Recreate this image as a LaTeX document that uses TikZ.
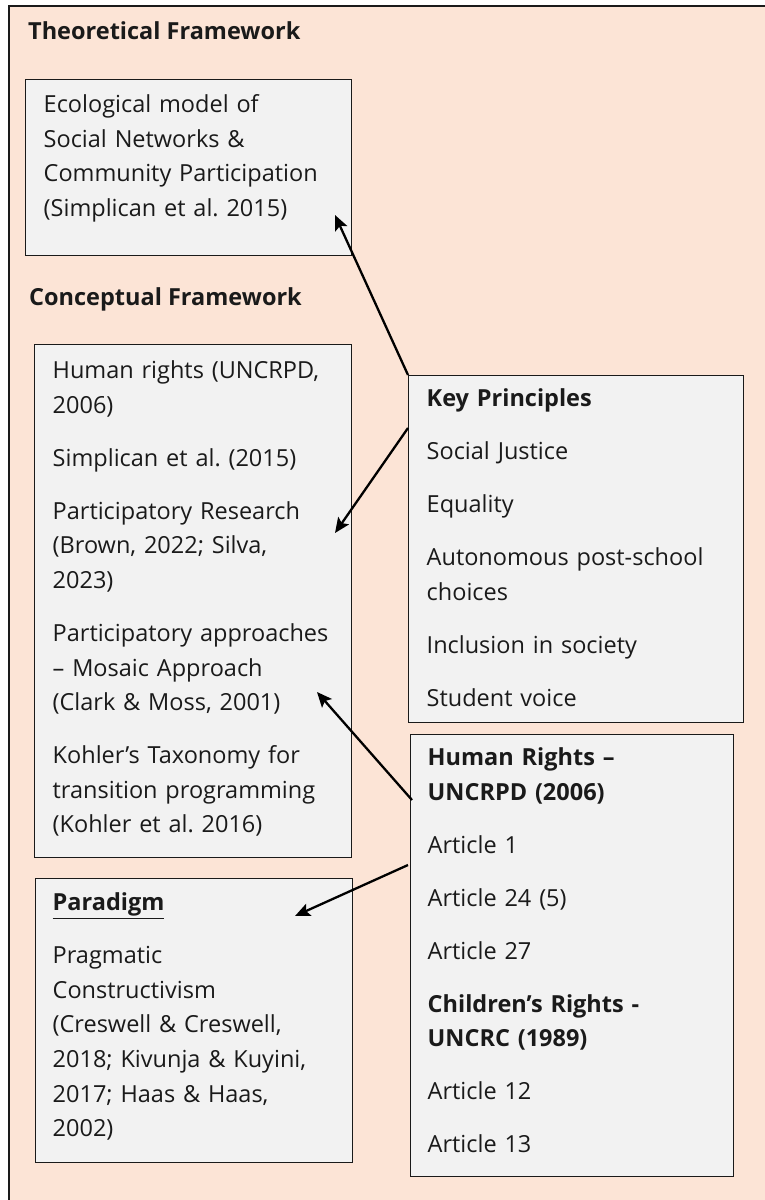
\documentclass[tikz,border=0pt]{standalone}
\usepackage{fontspec}
\setmainfont{Open Sans}
\frenchspacing
\usetikzlibrary{arrows.meta, positioning}

\definecolor{peach}{HTML}{FCE4D6}
\definecolor{boxGrey}{HTML}{F2F2F2}
\definecolor{inkDark}{HTML}{1A1A1A}

\begin{document}
\begin{tikzpicture}[
        x=1pt, y=-1pt,
        every node/.style={text=inkDark},
        frameBlock/.style={
            rectangle, draw=inkDark, line width=1.4pt, fill=boxGrey,
            anchor=north west, align=left, inner ysep=0pt,
            font=\fontsize{23.5}{34.6}\selectfont
        },
        headText/.style={
            anchor=base west, inner sep=0pt,
            font=\fontsize{23.5}{34.6}\selectfont\bfseries
        },
        arrow/.style={
            line width=2.3pt, -{Stealth[length=15pt, width=13pt, inset=3pt]}
        }
    ]
        \useasboundingbox (0,0) rectangle (765,1200);
        \fill[white] (0,0) rectangle (765,1200);
        \fill[peach] (9,6) rectangle (765,1200);
        \draw[inkDark, line width=1.3pt] (9,1200) -- (9,6) -- (765,6);

        % Headings
        \node (theoryHead) [headText] at (28,39) {Theoretical Framework};
        \node (conceptHead) [headText] at (29,305) {Conceptual Framework};

        % Nodes
        \node (theory) [frameBlock, inner xsep=18pt, text width=290pt,
            text height=33pt, text depth=143pt] at (25,79)
            {Ecological model of\\ Social Networks \&\\ Community Participation\\ (Simplican et al. 2015)};
        \node (concept) [frameBlock, inner xsep=18pt, text width=281pt,
            text height=34pt, text depth=479pt] at (34,344)
            {Human rights (UNCRPD,\\ 2006)\\[18.4pt]
             Simplican et al. (2015)\\[18.4pt]
             Participatory Research\\ (Brown, 2022; Silva,\\ 2023)\\[18.4pt]
             Participatory approaches\\ – Mosaic Approach\\ (Clark \& Moss, 2001)\\[18.4pt]
             Kohler’s Taxonomy for\\ transition programming\\ (Kohler et al. 2016)};
        \node (principles) [frameBlock, inner xsep=18pt, text width=299pt,
            text height=31pt, text depth=316pt] at (408,375)
            {\textbf{Key Principles}\\[18.4pt]
             Social Justice\\[18.4pt]
             Equality\\[18.4pt]
             Autonomous post-school\\ choices\\[18.4pt]
             Inclusion in society\\[18.4pt]
             Student voice};
        \node (rights) [frameBlock, inner xsep=17pt, text width=289pt,
            text height=31pt, text depth=411pt] at (410,734)
            {\textbf{Human Rights –}\\ \textbf{UNCRPD (2006)}\\[18.4pt]
             Article 1\\[18.4pt]
             Article 24 (5)\\[18.4pt]
             Article 27\\[18.4pt]
             \textbf{Children’s Rights -}\\ \textbf{UNCRC (1989)}\\[18.4pt]
             Article 12\\[18.4pt]
             Article 13};
        \node (paradigm) [frameBlock, inner xsep=17pt, text width=283pt,
            text height=32pt, text depth=252pt] at (35,878)
            {\underline{\textbf{Paradigm}}\\[18.4pt]
             Pragmatic\\ Constructivism\\ (Creswell \& Creswell,\\ 2018; Kivunja \& Kuyini,\\ 2017; Haas \& Haas,\\ 2002)};

        % Arrow tips
        \coordinate (tipTheory) at (335,215);
        \coordinate (tipConcept) at (335,533);
        \coordinate (tipMosaic) at (317,692);
        \coordinate (tipParadigm) at (295,916);

        % Arrows
        \draw [arrow] (principles.north west) -- (tipTheory);
        \draw [arrow] ([shift={(0,53)}]principles.north west) -- (tipConcept);
        \draw [arrow] ([shift={(2,66)}]rights.north west) -- (tipMosaic);
        \draw [arrow] ([shift={(-2,131)}]rights.north west) -- (tipParadigm);
    \end{tikzpicture}
\end{document}
